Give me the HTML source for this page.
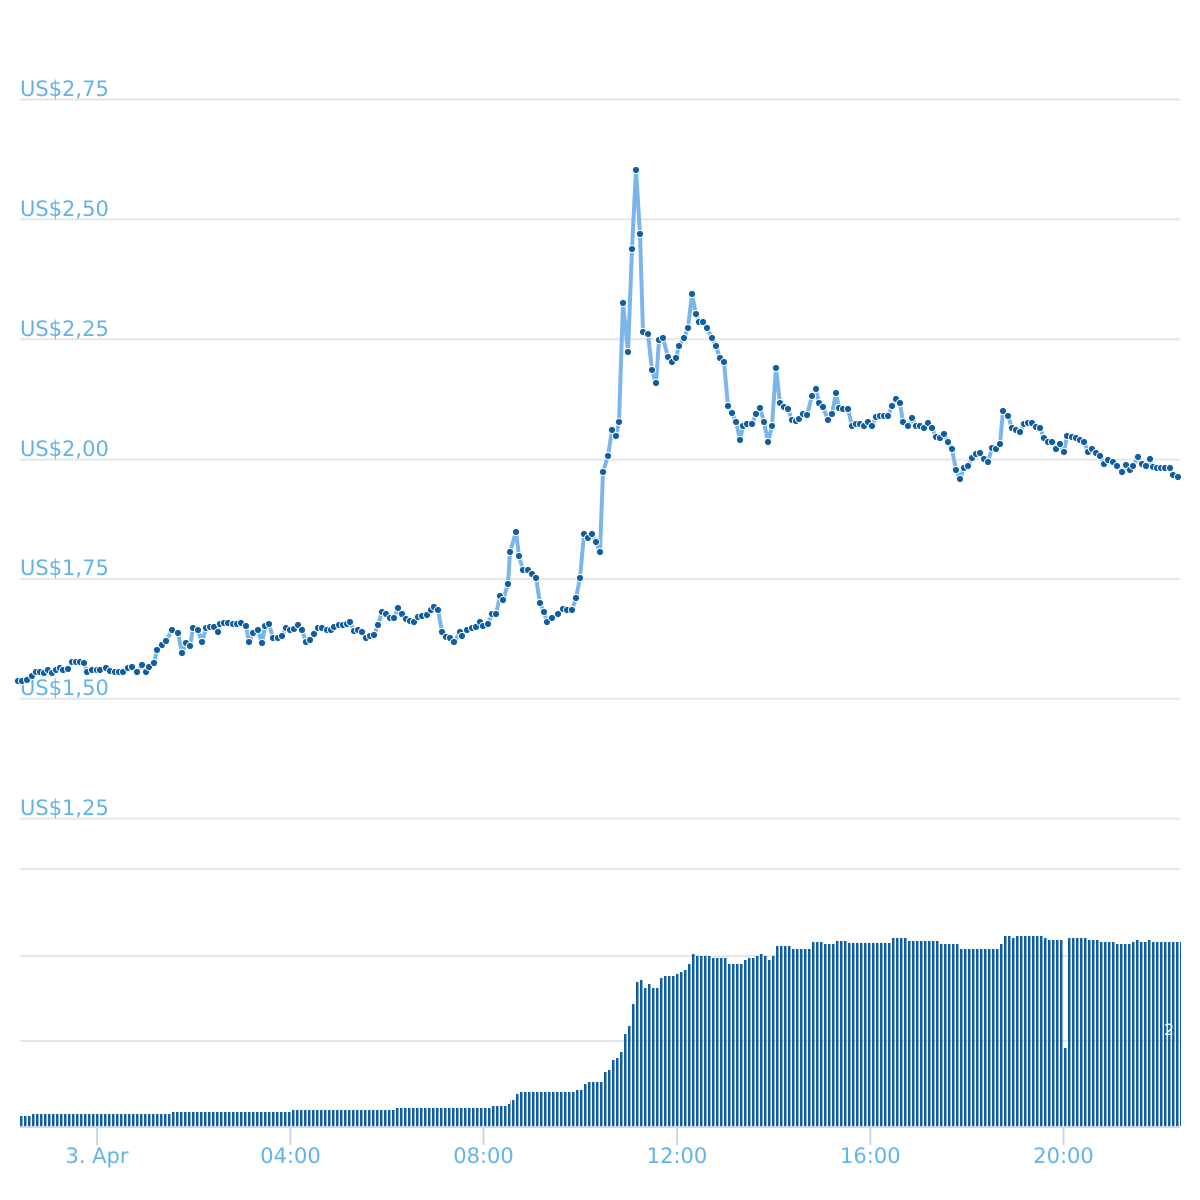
<!DOCTYPE html>
<html>
<head>
<meta charset="utf-8">
<style>
  html, body { margin: 0; padding: 0; background: #ffffff; }
  svg { display: block; }
  .yl { font-family: "DejaVu Sans", "Liberation Sans", sans-serif; font-size: 21px; fill: #62b4e8; }
  .xl { font-family: "DejaVu Sans", "Liberation Sans", sans-serif; font-size: 21px; fill: #62b4e8; text-anchor: middle; }
</style>
</head>
<body>
<svg width="1200" height="1200" viewBox="0 0 1200 1200" xmlns="http://www.w3.org/2000/svg">
  <defs>
    <pattern id="bp" patternUnits="userSpaceOnUse" x="20" y="0" width="4" height="10">
      <rect x="0" y="0" width="2.5" height="10" fill="#0f5ea3"/>
    </pattern>
    <marker id="m" markerUnits="userSpaceOnUse" markerWidth="12" markerHeight="12" refX="6" refY="6" overflow="visible">
      <circle cx="6" cy="6" r="3.6" fill="#0f5ea3" stroke="#ffffff" stroke-width="1"/>
    </marker>
  </defs>
  <rect x="0" y="0" width="1200" height="1200" fill="#ffffff"/>

  <!-- price grid -->
  <g stroke="#e6e6e6" stroke-width="2">
    <line x1="20" y1="99.5" x2="1180" y2="99.5"/>
    <line x1="20" y1="219.4" x2="1180" y2="219.4"/>
    <line x1="20" y1="339.2" x2="1180" y2="339.2"/>
    <line x1="20" y1="459.6" x2="1180" y2="459.6"/>
    <line x1="20" y1="578.9" x2="1180" y2="578.9"/>
    <line x1="20" y1="698.8" x2="1180" y2="698.8"/>
    <line x1="20" y1="818.6" x2="1180" y2="818.6"/>
    <!-- volume grid -->
    <line x1="20" y1="869" x2="1180" y2="869"/>
    <line x1="20" y1="956" x2="1180" y2="956"/>
    <line x1="20" y1="1041" x2="1180" y2="1041"/>
  </g>

  <!-- y labels -->
  <text class="yl" x="20" y="96">US$2,75</text>
  <text class="yl" x="20" y="216">US$2,50</text>
  <text class="yl" x="20" y="336">US$2,25</text>
  <text class="yl" x="20" y="456">US$2,00</text>
  <text class="yl" x="20" y="575">US$1,75</text>
  <text class="yl" x="20" y="695">US$1,50</text>
  <text class="yl" x="20" y="815">US$1,25</text>

  <!-- volume bars -->
  <path fill="url(#bp)" d="M20,1126 V1116 H32 V1114 H172 V1112 H292 V1110 H396 V1108 H492 V1106 H508 V1104 H510 V1100 H516 V1094 H520 V1092 H576 V1090 H584 V1084 H588 V1082 H604 V1072 H608 V1070 H612 V1060 H616 V1058 H620 V1052 H624 V1034 H628 V1026 H632 V1004 H636 V982 H640 V980 H644 V988 H648 V984 H652 V988 H660 V978 H664 V976 H676 V974 H680 V972 H684 V970 H688 V964 H692 V954 H696 V956 H712 V958 H728 V964 H744 V960 H748 V958 H756 V956 H760 V954 H764 V956 H768 V960 H772 V956 H776 V946 H792 V949 H812 V942 H824 V944 H836 V941 H848 V943 H892 V938 H908 V941 H940 V944 H960 V949 H1000 V944 H1004 V936 H1012 V938 H1016 V936 H1044 V938 H1048 V940 H1064 V1048 H1068 V938 H1088 V940 H1100 V942 H1116 V944 H1132 V942 H1136 V940 H1140 V942 H1148 V940 H1152 V942 H1181 V1126 Z"/>
  <text x="1164" y="1035" font-family="DejaVu Sans, sans-serif" font-size="16" fill="#ffffff">2</text>

  <!-- x axis -->
  <line x1="20" y1="1127" x2="1180" y2="1127" stroke="#ccd6eb" stroke-width="2"/>
  <g stroke="#ccd6eb" stroke-width="2">
    <line x1="97" y1="1127" x2="97" y2="1145"/>
    <line x1="290.5" y1="1127" x2="290.5" y2="1145"/>
    <line x1="483.5" y1="1127" x2="483.5" y2="1145"/>
    <line x1="677" y1="1127" x2="677" y2="1145"/>
    <line x1="870.3" y1="1127" x2="870.3" y2="1145"/>
    <line x1="1063.5" y1="1127" x2="1063.5" y2="1145"/>
  </g>
  <text class="xl" x="97" y="1163">3. Apr</text>
  <text class="xl" x="290.5" y="1163">04:00</text>
  <text class="xl" x="483.5" y="1163">08:00</text>
  <text class="xl" x="677" y="1163">12:00</text>
  <text class="xl" x="870.3" y="1163">16:00</text>
  <text class="xl" x="1063.5" y="1163">20:00</text>

  <!-- price line -->
  <polyline fill="none" stroke="#7cb5ec" stroke-width="4" stroke-linejoin="round" stroke-linecap="round"
    marker-start="url(#m)" marker-mid="url(#m)" marker-end="url(#m)"
    points="18,681 22,681 27,680 32,676 36,672 40,672 44,673 48,670 52,673 56,670 60,668 63,670 68,669 72,662 76,662 80,662 84,663 87,672 92,670 97,670 100,670 106,668 110,671 115,672 119,672 123,672 128,668 132,667 137,672 142,665 146,672 149,667 154,663 157,650 162,645 166,641 172,630 178,633 182,653 186,643 190,646 193,628 198,630 202,642 206,628 210,627 214,627 218,632 220,624 224,623 228,623 233,624 237,624 241,623 246,626 249,642 253,633 258,630 262,643 265,626 269,624 273,638 278,638 282,636 286,628 290,630 294,629 298,625 302,630 306,642 310,640 314,634 318,628 322,628 327,630 331,630 334,627 339,625 343,625 347,624 350,622 354,631 358,630 362,632 366,638 370,636 374,635 378,625 382,612 386,614 390,618 394,618 398,608 402,614 406,619 410,621 414,622 418,617 422,616 427,615 431,610 434,607 438,610 442,632 446,637 450,638 454,642 460,632 462,636 467,630 472,628 476,627 480,622 483,626 488,624 492,614 496,614 500,596 503,600 508,584 510,552 516,532 519,556 523,570 528,570 532,574 536,578 540,603 544,612 547,622 552,618 558,614 563,609 567,610 572,610 576,598 580,578 584,534 588,538 592,534 596,542 600,552 603,472 608,456 612,430 616,436 619,422 623,303 628,352 632,249 636,170 640,234 643,332 648,334 652,370 656,383 659,340 663,338 668,357 672,362 676,358 679,346 684,338 688,328 692,294 696,314 699,322 703,322 707,328 712,338 716,346 720,358 724,362 728,406 732,413 736,422 740,440 743,426 747,424 752,424 756,414 760,408 764,422 768,442 772,426 776,368 780,403 784,407 788,409 792,420 796,421 799,419 803,414 807,415 812,396 816,389 819,403 823,407 828,420 832,414 836,393 839,408 843,409 848,409 852,426 856,424 860,424 864,426 868,422 872,426 876,417 880,416 884,416 888,416 892,406 896,399 900,403 903,422 908,426 912,418 916,426 920,426 924,428 928,423 932,428 936,437 940,438 944,434 948,442 952,449 956,470 960,479 964,468 968,466 972,458 976,454 980,453 984,459 988,462 992,448 996,449 1000,444 1003,411 1008,416 1012,428 1016,430 1020,432 1024,424 1028,423 1032,423 1036,427 1040,428 1044,438 1048,442 1052,442 1056,449 1060,444 1064,452 1067,436 1072,437 1076,438 1080,440 1084,442 1088,452 1092,449 1096,453 1100,456 1104,464 1108,460 1113,462 1117,466 1122,472 1126,465 1130,470 1133,466 1138,457 1142,464 1146,466 1150,459 1153,467 1157,468 1161,468 1165,468 1170,468 1173,475 1178,477"/>
</svg>
</body>
</html>
